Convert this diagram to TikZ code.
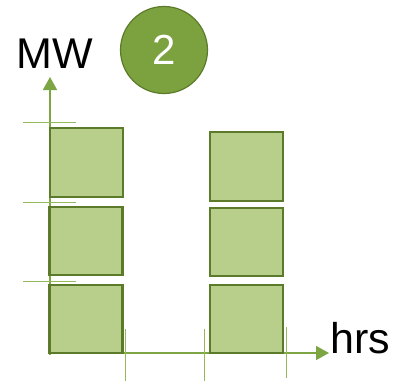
\documentclass[tikz,border=0pt]{standalone}
\usepackage{fontspec}
\setmainfont{Liberation Sans}
\usepackage{tikz}
\usetikzlibrary{arrows.meta,positioning}
\definecolor{blockfill}{HTML}{B7CF8A}
\definecolor{blockedge}{HTML}{5B7B2A}
\definecolor{axisgreen}{HTML}{7DA544}
\definecolor{tickgreen}{HTML}{93B95C}
\definecolor{badgefill}{HTML}{7CA23F}

\begin{document}
\begin{tikzpicture}[x=1pt,y=-1pt,
  block/.style={draw=blockedge,fill=blockfill,line width=2.6pt,
    minimum width=73pt,minimum height=68pt,inner sep=0pt},
  axis/.style={axisgreen,line width=1.6pt,-{Triangle[length=13pt,width=14pt]}},
  tickline/.style={tickgreen,line width=0.9pt},
  label/.style={font=\fontsize{43}{43}\selectfont,inner sep=0pt}
]
\useasboundingbox (0,0) rectangle (393,381);
% axes
\coordinate (o) at (50,355);
\coordinate (ytip) at (50,77);
\coordinate (xtip) at (329,353);
\draw[axis] (o) -- (ytip);
\draw[axis] (50,353) -- (xtip);
% ticks
\draw[tickline] (23,122) -- (76,122);
\draw[tickline] (23,202) -- (76,202);
\draw[tickline] (23,281) -- (76,281);
\draw[tickline] (125,329) -- (125,381);
\draw[tickline] (204,329) -- (204,381);
\draw[tickline] (286,327) -- (286,378);
% blocks, left column
\node[block,minimum height=69pt] (l1) at (86.5,162.5) {};
\node[block] (l2) at (86,241) {};
\node[block] (l3) at (86,319) {};
% blocks, right column
\node[block,minimum height=69pt] (r1) at (246.5,166.5) {};
\node[block] (r2) at (246.5,242) {};
\node[block] (r3) at (246.5,319) {};
% labels
\node[label,anchor=base west] (mw) at (16,68) {MW};
\node[label,anchor=base west] (hrs) at (330,353) {hrs};
\node[circle,draw=blockedge,fill=badgefill,line width=1.2pt,minimum size=87pt,
  text=white,font=\fontsize{42}{42}\selectfont] (badge) at (164,50) {2};
\end{tikzpicture}
\end{document}
